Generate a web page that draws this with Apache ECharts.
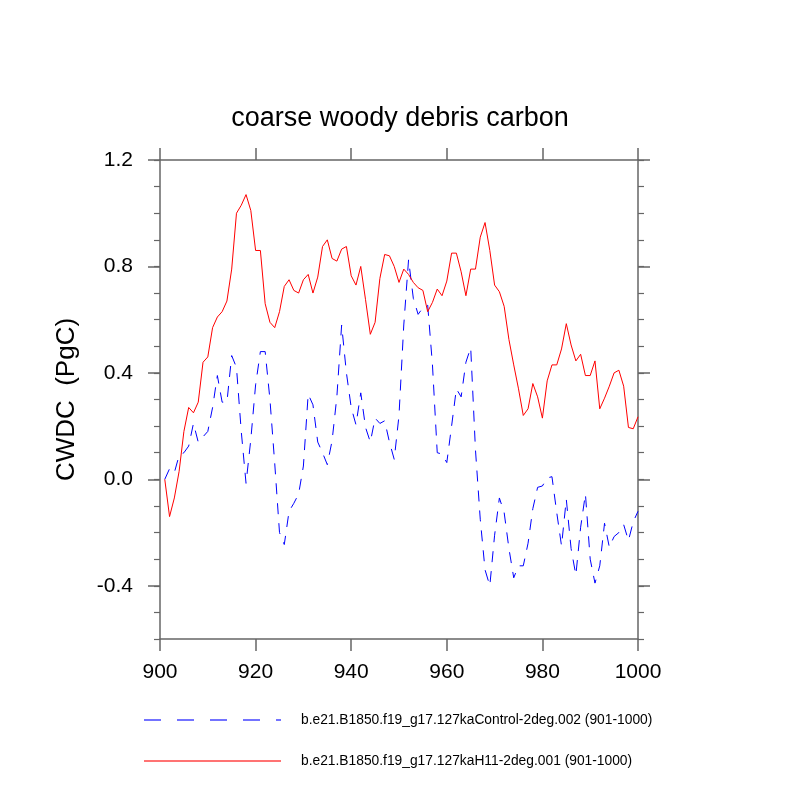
<!DOCTYPE html>
<html>
<head>
<meta charset="utf-8">
<script src="https://cdn.jsdelivr.net/npm/echarts@6/dist/echarts.min.js"></script>
<style>
  html, body { margin: 0; padding: 0; background: #fff; }
  #container { width: 800px; height: 800px; }
</style>
</head>
<body>
<div id="container"></div>
<script>
var dom = document.getElementById('container')
var myChart = echarts.init(dom)

// years 901..1000
var firstYear = 901
var xTicks = [900, 920, 940, 960, 980, 1000]
var yLabels = [-0.4, 0.0, 0.4, 0.8, 1.2]

var controlName = 'b.e21.B1850.f19_g17.127kaControl-2deg.002 (901-1000)'
var h11Name = 'b.e21.B1850.f19_g17.127kaH11-2deg.001 (901-1000)'

// CWDC anomaly, PgC
var controlValues = [
  0.0, 0.04, 0.025, 0.09, 0.10, 0.125, 0.21, 0.14, 0.16, 0.18,
  0.27, 0.39, 0.29, 0.29, 0.465, 0.42, 0.18, -0.015, 0.15, 0.355,
  0.48, 0.48, 0.30, 0.06, -0.20, -0.245, -0.12, -0.09, -0.055, 0.05,
  0.32, 0.28, 0.14, 0.10, 0.055, 0.145, 0.31, 0.58, 0.40, 0.27,
  0.205, 0.325, 0.195, 0.14, 0.23, 0.21, 0.22, 0.14, 0.075, 0.24,
  0.58, 0.825, 0.68, 0.62, 0.645, 0.655, 0.43, 0.10, 0.095, 0.063,
  0.20, 0.34, 0.31, 0.44, 0.495, 0.11, -0.15, -0.34, -0.40, -0.21,
  -0.07, -0.125, -0.26, -0.37, -0.325, -0.325, -0.24, -0.11, -0.03, -0.025,
  0.005, 0.01, -0.125, -0.25, -0.075, -0.26, -0.36, -0.18, -0.055, -0.30,
  -0.39, -0.325, -0.165, -0.255, -0.215, -0.20, -0.17, -0.23, -0.16, -0.12
]
var h11Values = [
  0.0, -0.14, -0.07, 0.03, 0.18, 0.27, 0.25, 0.29, 0.44, 0.46,
  0.57, 0.61, 0.63, 0.67, 0.79, 1.00, 1.03, 1.07, 1.01, 0.86,
  0.86, 0.66, 0.59, 0.57, 0.63, 0.725, 0.75, 0.71, 0.70, 0.75,
  0.77, 0.70, 0.76, 0.875, 0.90, 0.83, 0.82, 0.865, 0.875, 0.765,
  0.73, 0.80, 0.675, 0.545, 0.59, 0.755, 0.845, 0.84, 0.80, 0.74,
  0.79, 0.77, 0.74, 0.72, 0.71, 0.63, 0.665, 0.715, 0.69, 0.745,
  0.85, 0.85, 0.78, 0.69, 0.79, 0.79, 0.91, 0.965, 0.86, 0.73,
  0.705, 0.65, 0.525, 0.43, 0.34, 0.24, 0.265, 0.36, 0.31, 0.23,
  0.37, 0.43, 0.43, 0.49, 0.585, 0.505, 0.445, 0.47, 0.39, 0.39,
  0.445, 0.265, 0.305, 0.35, 0.40, 0.41, 0.35, 0.195, 0.19, 0.235
]

function toPairs(values) {
  return values.map(function(v, i) {
    return [firstYear + i, v]
  })
}

var axisColor = '#666'
var fontFamily = '"Liberation Sans", Arial, Helvetica, sans-serif'

function yAxisDef(position, major, withLabels) {
  return {
    type: 'value',
    position: position,
    min: -0.6,
    max: 1.2,
    interval: 0.1,
    name: withLabels ? 'CWDC  (PgC)' : '',
    nameLocation: 'middle',
    nameRotate: 90,
    nameGap: 80,
    nameTextStyle: {
      fontFamily: fontFamily,
      fontSize: 26,
      color: '#000'
    },
    splitLine: { show: false },
    axisLine: {
      show: major,
      onZero: false,
      lineStyle: { color: axisColor, width: 1.5 }
    },
    axisTick: major ? {
      show: true,
      inside: false,
      length: 12,
      customValues: yLabels,
      lineStyle: { color: axisColor, width: 1.5 }
    } : {
      show: true,
      inside: false,
      length: 6,
      lineStyle: { color: axisColor, width: 1.2 }
    },
    axisLabel: withLabels ? {
      show: true,
      margin: 27,
      customValues: yLabels,
      fontFamily: fontFamily,
      fontSize: 21,
      color: '#000',
      formatter: function(v) {
        return v.toFixed(1)
      }
    } : { show: false }
  }
}

function xAxisDef(position, withLabels) {
  return {
    type: 'value',
    position: position,
    min: 900,
    max: 1000,
    interval: 20,
    splitLine: { show: false },
    axisLine: {
      show: true,
      onZero: false,
      lineStyle: { color: axisColor, width: 1.5 }
    },
    axisTick: {
      show: true,
      inside: false,
      length: 12,
      lineStyle: { color: axisColor, width: 1.5 }
    },
    axisLabel: withLabels ? {
      show: true,
      margin: 23,
      fontFamily: fontFamily,
      fontSize: 21,
      color: '#000',
      formatter: function(v) {
        return String(v)
      }
    } : { show: false }
  }
}

option = {
  backgroundColor: '#fff',
  animation: false,
  title: {
    text: 'coarse woody debris carbon',
    left: 'center',
    top: 100,
    textStyle: {
      fontFamily: fontFamily,
      fontSize: 27,
      fontWeight: 'normal',
      color: '#000'
    }
  },
  legend: {
    orient: 'vertical',
    left: 143,
    top: 713,
    padding: 0,
    itemWidth: 137,
    itemHeight: 14,
    itemGap: 27,
    itemStyle: { opacity: 0 },
    lineStyle: { opacity: 0.55 },
    textStyle: {
      fontFamily: fontFamily,
      fontSize: 13.8,
      color: '#000',
      padding: [0, 0, 0, 15]
    },
    data: [{
      name: controlName,
      lineStyle: { type: [17, 16], opacity: 0.55 }
    }, {
      name: h11Name
    }]
  },
  grid: {
    left: 160,
    right: 162,
    top: 160,
    bottom: 161,
    containLabel: false
  },
  xAxis: [xAxisDef('bottom', true), xAxisDef('top', false)],
  yAxis: [
    yAxisDef('left', true, true),
    yAxisDef('left', false, false),
    yAxisDef('right', true, false),
    yAxisDef('right', false, false)
  ],
  series: [{
    name: controlName,
    type: 'line',
    xAxisIndex: 0,
    yAxisIndex: 0,
    symbol: 'none',
    lineStyle: {
      color: '#0000ff',
      width: 1,
      type: [11, 9]
    },
    itemStyle: { color: '#0000ff' },
    data: toPairs(controlValues)
  }, {
    name: h11Name,
    type: 'line',
    xAxisIndex: 0,
    yAxisIndex: 0,
    symbol: 'none',
    lineStyle: {
      color: '#ff0000',
      width: 1
    },
    itemStyle: { color: '#ff0000' },
    data: toPairs(h11Values)
  }]
}

myChart.setOption(option)
</script>
</body>
</html>
